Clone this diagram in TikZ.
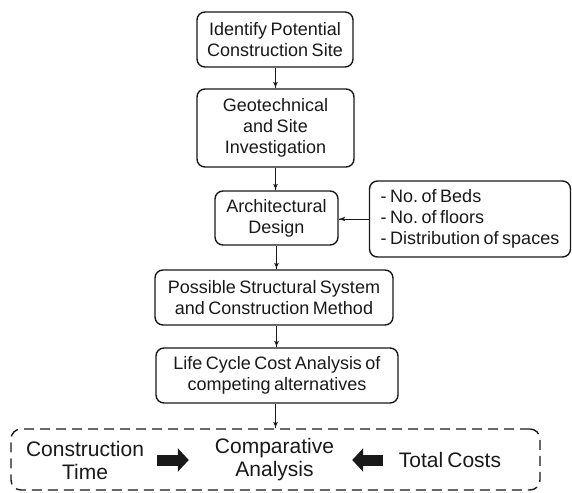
\documentclass[tikz,border=0pt]{standalone}
\usepackage{fontspec}
\setmainfont[WordSpace = 0.7]{Liberation Sans}
\frenchspacing
\usetikzlibrary{arrows}
\usetikzlibrary{arrows.meta}
\usetikzlibrary{decorations.markings}
\tikzset{->/.style = {decoration={markings,
                                  mark=at position 1 with {\arrow[scale=1.1]{latex'}}},
                      postaction={decorate}}}
\tikzset{stage/.style = {draw, rounded corners = 8, line width = 1.4, inner sep = 0,
                         align = center, font = \fontsize{18}{21}\selectfont}}
\tikzset{fat/.style = {line width = 11, -{Triangle[length = 11pt, width = 23pt]}}}
\tikzset{big/.style = {inner sep = 0, align = center, font = \fontsize{21}{23}\selectfont}}
\definecolor{ink}{rgb}{0.1, 0.1, 0.1}

\begin{document}
\begin{tikzpicture}[x = 1pt, y = -1pt, color = ink]
      \useasboundingbox (0, 0) rectangle (572, 492);
      \node [stage, minimum width = 156, minimum height = 55] (site) at (275, 39.5)
            {Identify Potential\\Construction Site};
      \node [stage, minimum width = 157, minimum height = 78] (geo) at (275.5, 128)
            {Geotechnical\\and Site\\Investigation};
      \node [stage, minimum width = 123, minimum height = 54] (arch) at (276.5, 218)
            {Architectural\\Design};
      \node [stage, align = left, minimum width = 201, minimum height = 76] (needs) at (470, 219)
            {- No. of Beds\\- No. of floors\\- Distribution of spaces};
      \node [stage, minimum width = 238, minimum height = 55] (system) at (274, 297.5)
            {Possible Structural System\\and Construction Method};
      \node [stage, minimum width = 242, minimum height = 55] (lcca) at (277, 375.5)
            {Life Cycle Cost Analysis of\\competing alternatives};
      \node [draw, dashed, dash pattern = on 10pt off 6pt, line width = 1.4, rounded corners = 10,
             minimum width = 529, minimum height = 61] (frame) at (275.5, 459.5) {};
      \node [big] (ctime) at (85, 460) {Construction\\Time};
      \node [big] (canalysis) at (274.5, 460) {Comparative\\Analysis};
      \node [big] (ctotal) at (450, 460) {Total Costs};
      \draw [->, line width = 1] (site.south -| geo.north) -- (geo.north);
      \draw [->, line width = 1] (geo.south) -- (geo.south |- arch.north);
      \draw [->, line width = 1] (arch.south) -- (arch.south |- system.north);
      \draw [->, line width = 1] (system.south -| arch.south) -- (arch.south |- lcca.north);
      \draw [->, line width = 1] (lcca.south -| frame.north) -- (frame.north);
      \draw [->, line width = 1] (needs.west) -- (needs.west -| arch.east);
      \draw [fat, shorten <= 13pt, shorten >= 26pt] (ctime.east) -- (canalysis.west);
      \draw [fat, shorten <= 16pt, shorten >= 18pt] (ctotal.west) -- (canalysis.east);
    \end{tikzpicture}
\end{document}
